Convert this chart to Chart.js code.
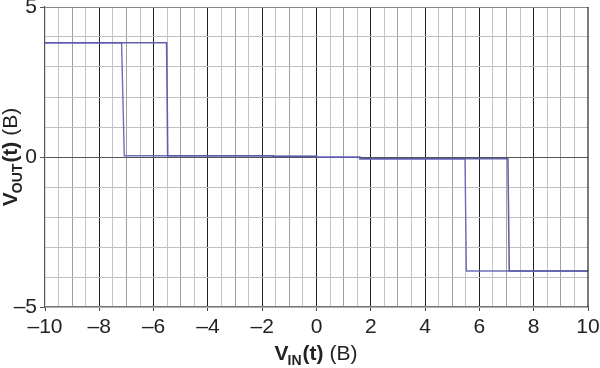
<!DOCTYPE html>
<html>
<head>
<meta charset="utf-8">
<script src="https://cdn.jsdelivr.net/npm/chart.js@4/dist/chart.umd.min.js"></script>
<style>
  html, body { margin: 0; padding: 0; background: #fff; }
  #wrap { position: relative; width: 600px; height: 368px; }
</style>
</head>
<body>
<div id="wrap"><canvas id="c" width="600" height="368"></canvas></div>
<script>
// ---- data ----
const xTickLabels = [-10, -8, -6, -4, -2, 0, 2, 4, 6, 8, 10];
const yTickLabels = [-5, 0, 5];

// trace switching at -5.5 (falling) and +7.1
const traceA_x = [-10, -5.52, -5.48, -1.6, -1.6, 0, 0, 1.6, 1.6, 7.05, 7.1, 10];
const traceA_y = [3.81, 3.81, 0.04, 0.04, 0.02, 0.02, -0.01, -0.01, -0.06, -0.06, -3.8, -3.8];

// trace switching at -7.1 and +5.5
const traceB_x = [-10, -7.18, -7.08, -1.6, -1.6, 0, 0, 1.6, 1.6, 5.47, 5.52, 10];
const traceB_y = [3.81, 3.81, 0.04, 0.04, 0.02, 0.02, -0.01, -0.01, -0.06, -0.06, -3.8, -3.8];

const xTitle = { main: 'V', sub: 'IN', rest: '(t)', unit: ' (B)' };
const yTitle = { main: 'V', sub: 'OUT', rest: '(t)', unit: ' (B)' };

function pts(xs, ys) { return xs.map((x, i) => ({ x: x, y: ys[i] })); }
function fmt(v) { return v < 0 ? '\u2013' + Math.abs(v) : String(v); }

const FONT = '"Liberation Sans", Arial, sans-serif';

const titlePlugin = {
  id: 'titles',
  afterDraw(chart) {
    const ctx = chart.ctx;
    function drawTitle(t, x, y, rot) {
      ctx.save();
      ctx.translate(x, y);
      ctx.rotate(rot);
      ctx.fillStyle = '#222';
      ctx.textBaseline = 'alphabetic';
      ctx.textAlign = 'left';
      const big = 'bold 21px ' + FONT, small = 'bold 14px ' + FONT, norm = '21px ' + FONT;
      ctx.font = big; const w1 = ctx.measureText(t.main).width;
      ctx.font = small; const w2 = ctx.measureText(t.sub).width;
      ctx.font = big; const w3 = ctx.measureText(t.rest).width;
      ctx.font = norm; const w4 = ctx.measureText(t.unit).width;
      let cx = -(w1 + w2 + w3 + w4) / 2;
      ctx.font = big; ctx.fillText(t.main, cx, 0); cx += w1 - 1;
      ctx.font = small; ctx.fillText(t.sub, cx, 5); cx += w2 + 1;
      ctx.font = big; ctx.fillText(t.rest, cx, 0); cx += w3;
      ctx.font = norm; ctx.fillText(t.unit, cx, 0);
      ctx.restore();
    }
    drawTitle(xTitle, 316, 360, 0);
    drawTitle(yTitle, 17, 157, -Math.PI / 2);
  }
};

new Chart(document.getElementById('c'), {
  type: 'scatter',
  data: {
    datasets: [
      { data: pts(traceA_x, traceA_y), showLine: true, borderColor: 'rgba(88,88,168,0.95)', borderWidth: 1.6, pointRadius: 0, tension: 0 },
      { data: pts(traceB_x, traceB_y), showLine: true, borderColor: 'rgba(96,96,176,0.9)', borderWidth: 1.4, pointRadius: 0, tension: 0 }
    ]
  },
  options: {
    responsive: false,
    animation: false,
    events: [],
    layout: { padding: { left: 0, top: 7, right: 12, bottom: 0 } },
    plugins: { legend: { display: false }, tooltip: { enabled: false }, title: { display: false } },
    scales: {
      x: {
        type: 'linear', min: -10, max: 10,
        afterBuildTicks(scale) {
          const t = [];
          for (let v = -10; v <= 10.001; v += 0.5) t.push({ value: Math.round(v * 2) / 2 });
          scale.ticks = t;
        },
        ticks: {
          autoSkip: false, maxRotation: 0, padding: 4,
          color: '#222', font: { family: FONT, size: 21 },
          callback(v) { return xTickLabels.includes(v) ? fmt(v) : ''; }
        },
        grid: {
          drawTicks: true, tickLength: 4,
          color(ctx) {
            const v = ctx.tick ? ctx.tick.value : 0;
            if (Math.abs(v) === 10) return 'rgba(0,0,0,0)';
            if (v % 2 === 0) return '#222';
            if (Number.isInteger(v)) return '#a0a0a0';
            return '#c4c4c4';
          },
          tickColor(ctx) {
            const v = ctx.tick ? ctx.tick.value : 0;
            return v % 2 === 0 ? '#444' : 'rgba(0,0,0,0)';
          },
          lineWidth: 1
        },
        border: { display: true, color: '#777', width: 1.2 },
        afterFit(scale) { scale.height = 61; scale.paddingLeft = 0; scale.paddingRight = 0; }
      },
      y: {
        type: 'linear', min: -5, max: 5,
        afterBuildTicks(scale) {
          const t = [];
          for (let v = -5; v <= 5; v += 1) t.push({ value: v });
          scale.ticks = t;
        },
        ticks: {
          autoSkip: false, padding: 3,
          color: '#222', font: { family: FONT, size: 21 },
          callback(v) { return yTickLabels.includes(v) ? fmt(v) : ''; }
        },
        grid: {
          drawTicks: true, tickLength: 5,
          color(ctx) {
            const v = ctx.tick ? ctx.tick.value : 0;
            if (v === 0) return '#555';
            if (v === 5) return '#888';
            return '#c0c0c0';
          },
          tickColor(ctx) {
            const v = ctx.tick ? ctx.tick.value : 0;
            return yTickLabels.includes(v) ? '#555' : 'rgba(0,0,0,0)';
          },
          lineWidth: 1
        },
        border: { display: true, color: '#555', width: 1.2 },
        afterFit(scale) { scale.width = 45; scale.paddingTop = 0; scale.paddingBottom = 0; }
      }
    }
  },
  plugins: [titlePlugin, {
    id: 'rightBorder',
    afterDraw(chart) {
      const a = chart.chartArea, ctx = chart.ctx;
      ctx.save();
      ctx.strokeStyle = '#222'; ctx.lineWidth = 1.2;
      ctx.beginPath(); ctx.moveTo(a.right, a.top); ctx.lineTo(a.right, a.bottom); ctx.stroke();
      ctx.restore();
    }
  }]
});
</script>
</body>
</html>
